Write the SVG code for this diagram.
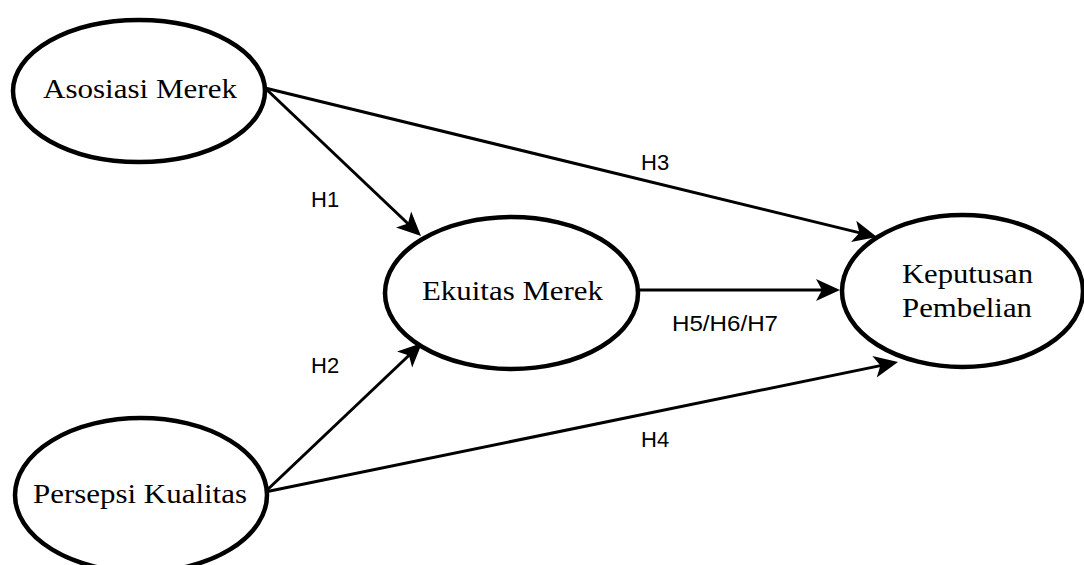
<svg xmlns="http://www.w3.org/2000/svg" width="1084" height="565" viewBox="0 0 1084 565">
  <style>
    .node { fill: #ffffff; stroke: #000000; stroke-width: 4.5; }
    .ntext { font-family: "Liberation Serif", "Times New Roman", serif; font-size: 28px; fill: #000000; }
    .edge { stroke: #000000; stroke-width: 3; fill: none; marker-end: url(#arrow); }
    .elabel { font-family: "Liberation Sans", Arial, sans-serif; font-size: 22px; fill: #000000; }
  </style>
  <defs>
    <marker id="arrow" markerUnits="userSpaceOnUse" markerWidth="30" markerHeight="30" refX="16" refY="12" orient="auto" overflow="visible">
      <path d="M0,1 L24,12 L0,23 L6,12 Z" fill="#000000"/>
    </marker>
  </defs>
  <rect width="1084" height="565" fill="#ffffff"/>
  <g id="connectors">
    <line class="edge" x1="265" y1="88" x2="415.2" y2="230.5"/>
    <line class="edge" x1="265" y1="88" x2="869.2" y2="235.1"/>
    <line class="edge" x1="638" y1="290" x2="832" y2="290"/>
    <line class="edge" x1="265" y1="492" x2="416.2" y2="348.5"/>
    <line class="edge" x1="265" y1="492" x2="890.2" y2="363.6"/>
    <text class="elabel" x="311" y="207">H1</text>
    <text class="elabel" x="641" y="170">H3</text>
    <text class="elabel" x="311" y="373">H2</text>
    <text class="elabel" x="641" y="447">H4</text>
    <text class="elabel" x="672" y="331" textLength="106" lengthAdjust="spacingAndGlyphs">H5/H6/H7</text>
  </g>
  <g id="asosiasi-merek">
    <ellipse class="node" cx="139" cy="91" rx="126" ry="71"/>
    <text class="ntext" x="43" y="98" textLength="194" lengthAdjust="spacingAndGlyphs">Asosiasi Merek</text>
  </g>
  <g id="persepsi-kualitas">
    <ellipse class="node" cx="141" cy="495" rx="126" ry="77"/>
    <text class="ntext" x="33" y="503" textLength="214" lengthAdjust="spacingAndGlyphs">Persepsi Kualitas</text>
  </g>
  <g id="ekuitas-merek">
    <ellipse class="node" cx="511.5" cy="293" rx="126.5" ry="76"/>
    <text class="ntext" x="422" y="300" textLength="181" lengthAdjust="spacingAndGlyphs">Ekuitas Merek</text>
  </g>
  <g id="keputusan-pembelian">
    <ellipse class="node" cx="962.5" cy="291" rx="120.5" ry="76"/>
    <text class="ntext" x="902" y="283" textLength="131" lengthAdjust="spacingAndGlyphs">Keputusan</text>
    <text class="ntext" x="902" y="317" textLength="130" lengthAdjust="spacingAndGlyphs">Pembelian</text>
  </g>
</svg>
